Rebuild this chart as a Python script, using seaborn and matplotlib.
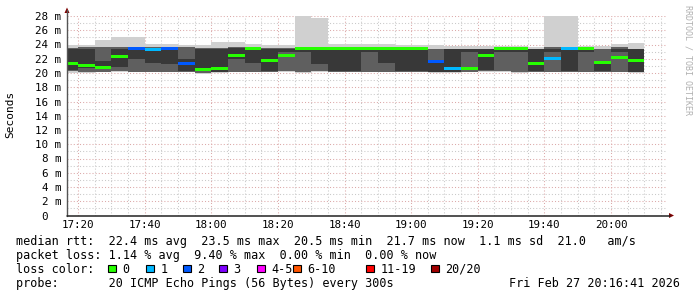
import matplotlib
matplotlib.use("Agg")
import matplotlib.pyplot as plt
import matplotlib.dates as mdates
from matplotlib.patches import Rectangle, Polygon
from matplotlib.lines import Line2D
import numpy as np
import pandas as pd
import seaborn as sns

# ---------------- data ----------------
slot_start = pd.date_range("2026-02-27 17:15", periods=35, freq="5min")
ping_min = [20.0, 20.0, 20.1, 20.1, 20.1, 20.1, 20.1, 20.1, 19.8, 20.0,
            20.1, 20.1, 20.1, 20.1, 20.0, 20.1, 20.1, 20.1, 20.1, 20.1,
            20.1, 20.1, 20.0, 20.0, 20.1, 20.1, 20.1, 20.0, 20.1, 20.1,
            20.1, 20.1, 20.1, 20.1, 20.0]
ping_p10 = [20.3, 20.1, 20.2, 20.3, 20.1, 20.1, 20.2, 20.2, 20.0, 20.1,
            20.1, 20.2, 20.2, 20.3, 20.1, 20.3, 20.2, 20.2, 20.2, 20.2,
            20.2, 20.2, 20.1, 20.1, 20.2, 20.3, 20.3, 20.2, 20.2, 20.2,
            20.2, 20.2, 20.2, 20.2, 20.1]
ping_p25 = [20.4, 20.7, 20.5, 20.9, 22.0, 21.4, 21.2, 20.3, 20.5, 20.2,
            22.0, 21.4, 20.3, 22.9, 22.9, 21.2, 20.3, 20.3, 22.9, 21.4,
            20.3, 20.3, 20.2, 20.2, 22.9, 20.4, 22.9, 22.9, 20.3, 22.9,
            20.3, 22.9, 20.3, 22.9, 20.2]
ping_p75 = [23.4, 23.4, 21.7, 23.3, 23.3, 23.3, 23.3, 21.9, 23.4, 23.4,
            23.5, 23.4, 23.4, 23.4, 23.4, 23.3, 23.4, 23.3, 23.4, 23.3,
            23.3, 23.3, 21.4, 23.3, 23.3, 23.3, 23.3, 23.3, 23.3, 23.4,
            23.3, 23.3, 21.7, 23.4, 23.3]
ping_p90 = [23.5, 23.6, 23.6, 23.6, 23.6, 23.6, 23.6, 23.6, 23.5, 23.5,
            23.6, 23.6, 23.5, 23.5, 23.6, 23.6, 23.6, 23.6, 23.6, 23.6,
            23.6, 23.6, 23.4, 23.4, 23.4, 23.4, 23.4, 23.4, 23.4, 23.6,
            23.6, 23.4, 23.4, 23.6, 23.4]
ping_max = [24.0, 24.0, 24.7, 25.1, 25.1, 24.0, 24.0, 23.9, 23.9, 24.4,
            24.4, 24.0, 23.9, 23.9, 28.2, 27.7, 24.0, 24.0, 24.0, 24.0,
            23.9, 23.9, 23.9, 23.8, 23.8, 23.8, 23.8, 23.8, 23.7, 28.2,
            28.2, 23.8, 23.8, 24.0, 24.2]
median_rtt = [21.4, 21.0, 20.8, 22.3, 23.4, 23.3, 23.4, 21.4, 20.5, 20.6,
              22.4, 23.5, 21.7, 22.4, 23.5, 23.5, 23.5, 23.5, 23.5, 23.5,
              23.5, 23.5, 21.6, 20.6, 20.7, 22.4, 23.4, 23.4, 21.4, 22.1,
              23.4, 23.5, 21.5, 22.2, 21.8]
loss_count = [0, 0, 0, 0, 2, 1, 2, 2, 0, 0,
              0, 0, 0, 0, 0, 0, 0, 0, 0, 0,
              0, 0, 2, 1, 0, 0, 0, 0, 0, 1,
              1, 0, 0, 0, 0]

loss_labels = ["0", "1", "2", "3", "4-5", "6-10", "11-19", "20/20"]
loss_colors = ["#26ff00", "#00b8ff", "#0059ff", "#7e00ff",
               "#ff00ff", "#ff5500", "#ff0000", "#a10000"]
loss_upper = [0, 1, 2, 3, 5, 10, 19, 20]

x_tick_times = pd.date_range("2026-02-27 17:20", "2026-02-27 20:00", freq="20min")
x_tick_labels = ["17:20", "17:40", "18:00", "18:20", "18:40",
                 "19:00", "19:20", "19:40", "20:00"]
y_tick_values = list(range(0, 29, 2))
y_tick_labels = ["0\u00a0\u00a0"] + [f"{v} m" for v in y_tick_values[1:]]

legend_line1 = ("median rtt:  22.4 ms avg  23.5 ms max  20.5 ms min  "
                "21.7 ms now  1.1 ms sd  21.0   am/s")
legend_line2 = "packet loss: 1.14 % avg  9.40 % max  0.00 % min  0.00 % now"
legend_line3 = "loss color:"
legend_line4 = "probe:       20 ICMP Echo Pings (56 Bytes) every 300s"
stamp_text = "Fri Feb 27 20:16:41 2026"
window_start = pd.Timestamp("2026-02-27 17:16:41")
window_end = pd.Timestamp("2026-02-27 20:16:41")

# ---------------- style ----------------
sns.set_theme(style="white")
plt.rcParams["font.family"] = ["DejaVu Sans Mono", "DejaVu Sans"]

W, H = 697, 297
fig = plt.figure(figsize=(W / 100, H / 100), dpi=100)
fig.patch.set_facecolor("white")


def fx(x):
    return x / W


def fy(y):
    return 1 - y / H


ax = fig.add_axes([fx(67), fy(215.5), 599.6 / W, 199.5 / H])
ax.set_facecolor("white")

xs = mdates.date2num(slot_start.to_pydatetime())
bw = 5 / 1440.0

mn = np.array(ping_min)
p10 = np.array(ping_p10)
p25 = np.array(ping_p25)
p75 = np.array(ping_p75)
p90 = np.array(ping_p90)
mx = np.array(ping_max)
med = np.array(median_rtt)

ax.bar(xs, mx - mn, bottom=mn, width=bw, align="edge", color="#d0d0d0", linewidth=0, zorder=2)
ax.bar(xs, p90 - p10, bottom=p10, width=bw, align="edge", color="#5f5f5f", linewidth=0, zorder=3)
ax.bar(xs, p75 - p25, bottom=p25, width=bw, align="edge", color="#383838", linewidth=0, zorder=4)


def loss_color(n):
    for up, c in zip(loss_upper, loss_colors):
        if n <= up:
            return c
    return loss_colors[-1]


mcols = [loss_color(n) for n in loss_count]
ax.bar(xs, 0.42, bottom=med - 0.21, width=bw, align="edge", color=mcols, linewidth=0, zorder=5)

ax.set_xlim(mdates.date2num(window_start.to_pydatetime()), mdates.date2num(window_end.to_pydatetime()))
ax.set_ylim(0, 28)

ax.set_xticks(mdates.date2num(x_tick_times.to_pydatetime()))
ax.set_xticklabels(x_tick_labels)
minor_x = pd.date_range("2026-02-27 17:20", "2026-02-27 20:15", freq="5min")
ax.set_xticks(mdates.date2num(minor_x.to_pydatetime()), minor=True)
ax.set_yticks(y_tick_values)
ax.set_yticklabels(y_tick_labels)
ax.set_yticks(list(range(1, 28, 2)), minor=True)

ax.tick_params(axis="both", which="both", length=0, labelsize=7.8, colors="black")
ax.tick_params(axis="y", pad=4.3)
ax.tick_params(axis="x", pad=3.0)
for lab in ax.get_xticklabels() + ax.get_yticklabels():
    lab.set_family("DejaVu Sans Mono")

ax.set_axisbelow(True)
ax.grid(which="minor", color="#c9c9c9", linestyle=(0, (1, 2)), linewidth=0.75)
ax.grid(which="major", color="#dca9a9", linestyle=(0, (1, 2)), linewidth=0.75)
for s in ax.spines.values():
    s.set_visible(False)

# axes lines and arrows
fig.add_artist(Line2D([fx(67), fx(67)], [fy(215.5), fy(10)], color="#555555", lw=1.0))
fig.add_artist(Line2D([fx(67), fx(670)], [fy(215.5), fy(215.5)], color="#222222", lw=1.1))
fig.add_artist(Polygon([[fx(64.5), fy(13)], [fx(69.5), fy(13)], [fx(67), fy(7.5)]],
                       closed=True, color="#7f0000", lw=0))
fig.add_artist(Polygon([[fx(669), fy(213)], [fx(669), fy(218)], [fx(674), fy(215.5)]],
                       closed=True, color="#7f0000", lw=0))

# axis label and watermark
fig.text(fx(10), fy(114), "Seconds", rotation=90, ha="center", va="center",
         fontsize=8, family="DejaVu Sans Mono", color="black")
fig.text(fx(688), fy(5), "RRDTOOL / TOBI OETIKER", rotation=-90, ha="center", va="top",
         fontsize=6, family="DejaVu Sans Mono", color="#b0b0b0")

# legend lines
lf = dict(fontsize=8.5, family="DejaVu Sans Mono", color="black", va="baseline", ha="left")
fig.text(fx(16), fy(245), legend_line1, **lf)
fig.text(fx(16), fy(259), legend_line2, **lf)
fig.text(fx(16), fy(273), legend_line3, **lf)
fig.text(fx(16), fy(287), legend_line4, **lf)
fig.text(fx(680), fy(287), stamp_text, fontsize=8.5, family="DejaVu Sans Mono",
         color="black", va="baseline", ha="right")

box_x = [108, 146, 183, 219, 257, 293, 366, 431]
for bx, lab, col in zip(box_x, loss_labels, loss_colors):
    fig.add_artist(Rectangle((fx(bx), fy(272)), 7.5 / W, 7.5 / H, facecolor=col,
                             edgecolor="black", lw=0.8, transform=fig.transFigure))
    fig.text(fx(bx + 14.5), fy(273), lab, **lf)

fig.savefig("out.png", dpi=100, facecolor="white")
